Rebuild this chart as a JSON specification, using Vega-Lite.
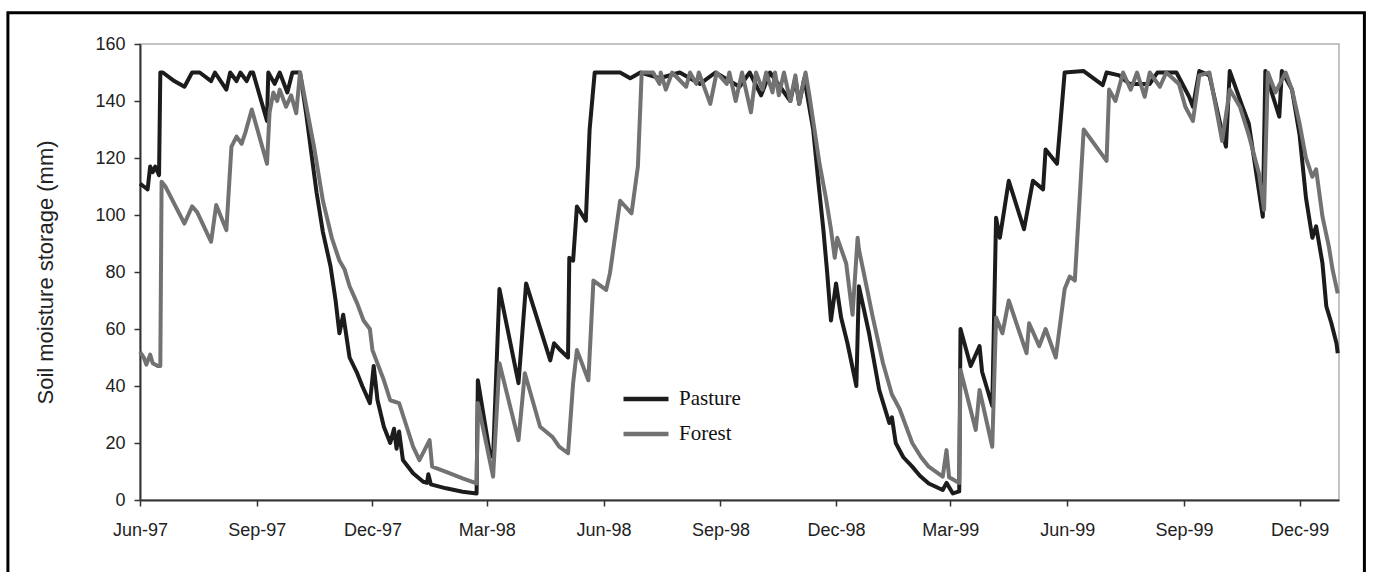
{
  "$schema": "https://vega.github.io/schema/vega-lite/v6.json",
  "autosize": {"type": "none"},
  "padding": {"left": 140, "top": 44, "right": 34, "bottom": 72},
  "width": 1199,
  "height": 456,
  "background": "white",
  "config": {
    "view": {"stroke": "#b0b0b0", "strokeWidth": 1.5},
    "font": "Liberation Sans"
  },
  "datasets": {
    "soil": [
      {"date": "1997-06-01", "series": "Pasture", "v": 111},
      {"date": "1997-06-04", "series": "Pasture", "v": 110},
      {"date": "1997-06-07", "series": "Pasture", "v": 109},
      {"date": "1997-06-09", "series": "Pasture", "v": 117},
      {"date": "1997-06-11", "series": "Pasture", "v": 115},
      {"date": "1997-06-13", "series": "Pasture", "v": 117},
      {"date": "1997-06-16", "series": "Pasture", "v": 114},
      {"date": "1997-06-17", "series": "Pasture", "v": 150},
      {"date": "1997-06-19", "series": "Pasture", "v": 150},
      {"date": "1997-06-28", "series": "Pasture", "v": 147},
      {"date": "1997-07-06", "series": "Pasture", "v": 145},
      {"date": "1997-07-12", "series": "Pasture", "v": 150},
      {"date": "1997-07-18", "series": "Pasture", "v": 150},
      {"date": "1997-07-27", "series": "Pasture", "v": 147},
      {"date": "1997-07-30", "series": "Pasture", "v": 150},
      {"date": "1997-08-08", "series": "Pasture", "v": 144},
      {"date": "1997-08-11", "series": "Pasture", "v": 150},
      {"date": "1997-08-16", "series": "Pasture", "v": 147},
      {"date": "1997-08-19", "series": "Pasture", "v": 150},
      {"date": "1997-08-24", "series": "Pasture", "v": 147},
      {"date": "1997-08-27", "series": "Pasture", "v": 150},
      {"date": "1997-08-29", "series": "Pasture", "v": 150},
      {"date": "1997-09-09", "series": "Pasture", "v": 133},
      {"date": "1997-09-10", "series": "Pasture", "v": 150},
      {"date": "1997-09-15", "series": "Pasture", "v": 146},
      {"date": "1997-09-19", "series": "Pasture", "v": 150},
      {"date": "1997-09-25", "series": "Pasture", "v": 143},
      {"date": "1997-09-29", "series": "Pasture", "v": 150},
      {"date": "1997-10-05", "series": "Pasture", "v": 150},
      {"date": "1997-10-10", "series": "Pasture", "v": 135},
      {"date": "1997-10-15", "series": "Pasture", "v": 118},
      {"date": "1997-10-18", "series": "Pasture", "v": 108},
      {"date": "1997-10-23", "series": "Pasture", "v": 94},
      {"date": "1997-10-29", "series": "Pasture", "v": 82},
      {"date": "1997-11-02", "series": "Pasture", "v": 70},
      {"date": "1997-11-05", "series": "Pasture", "v": 58.5},
      {"date": "1997-11-08", "series": "Pasture", "v": 65},
      {"date": "1997-11-11", "series": "Pasture", "v": 56},
      {"date": "1997-11-13", "series": "Pasture", "v": 50},
      {"date": "1997-11-19", "series": "Pasture", "v": 44.5},
      {"date": "1997-11-23", "series": "Pasture", "v": 40},
      {"date": "1997-11-29", "series": "Pasture", "v": 34},
      {"date": "1997-12-02", "series": "Pasture", "v": 47},
      {"date": "1997-12-05", "series": "Pasture", "v": 35},
      {"date": "1997-12-10", "series": "Pasture", "v": 25.7},
      {"date": "1997-12-15", "series": "Pasture", "v": 20},
      {"date": "1997-12-18", "series": "Pasture", "v": 25},
      {"date": "1997-12-20", "series": "Pasture", "v": 18},
      {"date": "1997-12-22", "series": "Pasture", "v": 24},
      {"date": "1997-12-25", "series": "Pasture", "v": 14},
      {"date": "1998-01-02", "series": "Pasture", "v": 9.4},
      {"date": "1998-01-10", "series": "Pasture", "v": 6.4},
      {"date": "1998-01-13", "series": "Pasture", "v": 6},
      {"date": "1998-01-14", "series": "Pasture", "v": 9},
      {"date": "1998-01-16", "series": "Pasture", "v": 5.5},
      {"date": "1998-01-28", "series": "Pasture", "v": 4.1},
      {"date": "1998-02-10", "series": "Pasture", "v": 2.9},
      {"date": "1998-02-21", "series": "Pasture", "v": 2.3},
      {"date": "1998-02-22", "series": "Pasture", "v": 42},
      {"date": "1998-03-03", "series": "Pasture", "v": 17.5},
      {"date": "1998-03-06", "series": "Pasture", "v": 15},
      {"date": "1998-03-11", "series": "Pasture", "v": 74},
      {"date": "1998-03-26", "series": "Pasture", "v": 41},
      {"date": "1998-04-01", "series": "Pasture", "v": 76},
      {"date": "1998-04-20", "series": "Pasture", "v": 49},
      {"date": "1998-04-23", "series": "Pasture", "v": 55},
      {"date": "1998-04-27", "series": "Pasture", "v": 53},
      {"date": "1998-05-04", "series": "Pasture", "v": 50},
      {"date": "1998-05-05", "series": "Pasture", "v": 85},
      {"date": "1998-05-08", "series": "Pasture", "v": 84},
      {"date": "1998-05-11", "series": "Pasture", "v": 103},
      {"date": "1998-05-18", "series": "Pasture", "v": 98},
      {"date": "1998-05-21", "series": "Pasture", "v": 130},
      {"date": "1998-05-25", "series": "Pasture", "v": 150},
      {"date": "1998-06-14", "series": "Pasture", "v": 150},
      {"date": "1998-06-22", "series": "Pasture", "v": 148},
      {"date": "1998-06-30", "series": "Pasture", "v": 150},
      {"date": "1998-07-15", "series": "Pasture", "v": 148},
      {"date": "1998-07-31", "series": "Pasture", "v": 150},
      {"date": "1998-08-16", "series": "Pasture", "v": 146},
      {"date": "1998-08-28", "series": "Pasture", "v": 150},
      {"date": "1998-09-16", "series": "Pasture", "v": 145},
      {"date": "1998-09-24", "series": "Pasture", "v": 150},
      {"date": "1998-10-03", "series": "Pasture", "v": 142},
      {"date": "1998-10-10", "series": "Pasture", "v": 150},
      {"date": "1998-10-26", "series": "Pasture", "v": 140},
      {"date": "1998-10-30", "series": "Pasture", "v": 148},
      {"date": "1998-11-02", "series": "Pasture", "v": 139},
      {"date": "1998-11-06", "series": "Pasture", "v": 148},
      {"date": "1998-11-13", "series": "Pasture", "v": 130},
      {"date": "1998-11-17", "series": "Pasture", "v": 112},
      {"date": "1998-11-21", "series": "Pasture", "v": 95},
      {"date": "1998-11-24", "series": "Pasture", "v": 80},
      {"date": "1998-11-27", "series": "Pasture", "v": 63},
      {"date": "1998-12-01", "series": "Pasture", "v": 76},
      {"date": "1998-12-05", "series": "Pasture", "v": 64},
      {"date": "1998-12-10", "series": "Pasture", "v": 55},
      {"date": "1998-12-17", "series": "Pasture", "v": 40},
      {"date": "1998-12-19", "series": "Pasture", "v": 75},
      {"date": "1998-12-27", "series": "Pasture", "v": 58.5},
      {"date": "1999-01-04", "series": "Pasture", "v": 38.6},
      {"date": "1999-01-12", "series": "Pasture", "v": 27},
      {"date": "1999-01-14", "series": "Pasture", "v": 29},
      {"date": "1999-01-17", "series": "Pasture", "v": 20},
      {"date": "1999-01-23", "series": "Pasture", "v": 15},
      {"date": "1999-01-30", "series": "Pasture", "v": 11.7},
      {"date": "1999-02-05", "series": "Pasture", "v": 8.5},
      {"date": "1999-02-12", "series": "Pasture", "v": 5.8},
      {"date": "1999-02-23", "series": "Pasture", "v": 3.5},
      {"date": "1999-02-26", "series": "Pasture", "v": 6},
      {"date": "1999-03-03", "series": "Pasture", "v": 2.3},
      {"date": "1999-03-08", "series": "Pasture", "v": 3},
      {"date": "1999-03-09", "series": "Pasture", "v": 60},
      {"date": "1999-03-17", "series": "Pasture", "v": 47},
      {"date": "1999-03-24", "series": "Pasture", "v": 54},
      {"date": "1999-03-26", "series": "Pasture", "v": 45},
      {"date": "1999-04-03", "series": "Pasture", "v": 33},
      {"date": "1999-04-06", "series": "Pasture", "v": 99},
      {"date": "1999-04-09", "series": "Pasture", "v": 92},
      {"date": "1999-04-16", "series": "Pasture", "v": 112},
      {"date": "1999-04-28", "series": "Pasture", "v": 95},
      {"date": "1999-05-05", "series": "Pasture", "v": 112},
      {"date": "1999-05-13", "series": "Pasture", "v": 109},
      {"date": "1999-05-15", "series": "Pasture", "v": 123},
      {"date": "1999-05-24", "series": "Pasture", "v": 118},
      {"date": "1999-05-30", "series": "Pasture", "v": 150},
      {"date": "1999-06-14", "series": "Pasture", "v": 150.5},
      {"date": "1999-06-29", "series": "Pasture", "v": 145.6},
      {"date": "1999-07-02", "series": "Pasture", "v": 150},
      {"date": "1999-07-12", "series": "Pasture", "v": 149},
      {"date": "1999-07-20", "series": "Pasture", "v": 146},
      {"date": "1999-08-05", "series": "Pasture", "v": 146},
      {"date": "1999-08-11", "series": "Pasture", "v": 150},
      {"date": "1999-08-26", "series": "Pasture", "v": 150},
      {"date": "1999-09-05", "series": "Pasture", "v": 141.5},
      {"date": "1999-09-08", "series": "Pasture", "v": 138},
      {"date": "1999-09-13", "series": "Pasture", "v": 150.5},
      {"date": "1999-09-21", "series": "Pasture", "v": 149},
      {"date": "1999-10-01", "series": "Pasture", "v": 129},
      {"date": "1999-10-04", "series": "Pasture", "v": 124},
      {"date": "1999-10-07", "series": "Pasture", "v": 150.5},
      {"date": "1999-10-17", "series": "Pasture", "v": 138},
      {"date": "1999-10-22", "series": "Pasture", "v": 132},
      {"date": "1999-11-02", "series": "Pasture", "v": 99.4},
      {"date": "1999-11-04", "series": "Pasture", "v": 150.5},
      {"date": "1999-11-09", "series": "Pasture", "v": 143},
      {"date": "1999-11-15", "series": "Pasture", "v": 134.5},
      {"date": "1999-11-17", "series": "Pasture", "v": 150.5},
      {"date": "1999-11-25", "series": "Pasture", "v": 144},
      {"date": "1999-12-01", "series": "Pasture", "v": 128},
      {"date": "1999-12-06", "series": "Pasture", "v": 106},
      {"date": "1999-12-11", "series": "Pasture", "v": 92},
      {"date": "1999-12-14", "series": "Pasture", "v": 96},
      {"date": "1999-12-19", "series": "Pasture", "v": 83},
      {"date": "1999-12-22", "series": "Pasture", "v": 68},
      {"date": "1999-12-26", "series": "Pasture", "v": 62},
      {"date": "1999-12-30", "series": "Pasture", "v": 55},
      {"date": "1999-12-31", "series": "Pasture", "v": 51.5},

      {"date": "1997-06-01", "series": "Forest", "v": 52},
      {"date": "1997-06-04", "series": "Forest", "v": 50},
      {"date": "1997-06-06", "series": "Forest", "v": 47.5},
      {"date": "1997-06-09", "series": "Forest", "v": 51},
      {"date": "1997-06-11", "series": "Forest", "v": 48},
      {"date": "1997-06-15", "series": "Forest", "v": 47},
      {"date": "1997-06-17", "series": "Forest", "v": 47},
      {"date": "1997-06-18", "series": "Forest", "v": 111.7},
      {"date": "1997-06-21", "series": "Forest", "v": 110},
      {"date": "1997-07-06", "series": "Forest", "v": 97},
      {"date": "1997-07-12", "series": "Forest", "v": 103},
      {"date": "1997-07-16", "series": "Forest", "v": 101},
      {"date": "1997-07-27", "series": "Forest", "v": 90.6},
      {"date": "1997-07-31", "series": "Forest", "v": 103.5},
      {"date": "1997-08-08", "series": "Forest", "v": 94.7},
      {"date": "1997-08-12", "series": "Forest", "v": 124},
      {"date": "1997-08-16", "series": "Forest", "v": 127.5},
      {"date": "1997-08-20", "series": "Forest", "v": 125},
      {"date": "1997-08-23", "series": "Forest", "v": 129},
      {"date": "1997-08-28", "series": "Forest", "v": 137},
      {"date": "1997-09-09", "series": "Forest", "v": 118},
      {"date": "1997-09-11", "series": "Forest", "v": 136},
      {"date": "1997-09-14", "series": "Forest", "v": 143},
      {"date": "1997-09-17", "series": "Forest", "v": 140},
      {"date": "1997-09-19", "series": "Forest", "v": 144},
      {"date": "1997-09-24", "series": "Forest", "v": 138},
      {"date": "1997-09-28", "series": "Forest", "v": 142},
      {"date": "1997-10-02", "series": "Forest", "v": 135.7},
      {"date": "1997-10-05", "series": "Forest", "v": 150},
      {"date": "1997-10-10", "series": "Forest", "v": 138},
      {"date": "1997-10-16", "series": "Forest", "v": 124},
      {"date": "1997-10-23", "series": "Forest", "v": 105},
      {"date": "1997-10-30", "series": "Forest", "v": 92},
      {"date": "1997-11-05", "series": "Forest", "v": 84},
      {"date": "1997-11-09", "series": "Forest", "v": 81},
      {"date": "1997-11-13", "series": "Forest", "v": 75},
      {"date": "1997-11-19", "series": "Forest", "v": 69},
      {"date": "1997-11-24", "series": "Forest", "v": 63},
      {"date": "1997-11-29", "series": "Forest", "v": 60},
      {"date": "1997-12-01", "series": "Forest", "v": 52.6},
      {"date": "1997-12-10", "series": "Forest", "v": 42},
      {"date": "1997-12-15", "series": "Forest", "v": 35},
      {"date": "1997-12-22", "series": "Forest", "v": 34},
      {"date": "1997-12-28", "series": "Forest", "v": 25.7},
      {"date": "1998-01-02", "series": "Forest", "v": 18.7},
      {"date": "1998-01-07", "series": "Forest", "v": 14},
      {"date": "1998-01-15", "series": "Forest", "v": 21},
      {"date": "1998-01-17", "series": "Forest", "v": 11.7},
      {"date": "1998-01-28", "series": "Forest", "v": 9.9},
      {"date": "1998-02-10", "series": "Forest", "v": 7.6},
      {"date": "1998-02-21", "series": "Forest", "v": 5.8},
      {"date": "1998-02-22", "series": "Forest", "v": 34},
      {"date": "1998-03-06", "series": "Forest", "v": 8.2},
      {"date": "1998-03-11", "series": "Forest", "v": 48},
      {"date": "1998-03-26", "series": "Forest", "v": 21},
      {"date": "1998-03-31", "series": "Forest", "v": 44.5},
      {"date": "1998-04-12", "series": "Forest", "v": 25.7},
      {"date": "1998-04-22", "series": "Forest", "v": 22},
      {"date": "1998-04-27", "series": "Forest", "v": 18.7},
      {"date": "1998-05-04", "series": "Forest", "v": 16.4},
      {"date": "1998-05-08", "series": "Forest", "v": 41},
      {"date": "1998-05-11", "series": "Forest", "v": 52.6},
      {"date": "1998-05-20", "series": "Forest", "v": 42},
      {"date": "1998-05-24", "series": "Forest", "v": 77},
      {"date": "1998-06-03", "series": "Forest", "v": 73.7},
      {"date": "1998-06-06", "series": "Forest", "v": 79.6},
      {"date": "1998-06-14", "series": "Forest", "v": 105},
      {"date": "1998-06-23", "series": "Forest", "v": 100.6},
      {"date": "1998-06-28", "series": "Forest", "v": 117},
      {"date": "1998-07-01", "series": "Forest", "v": 150},
      {"date": "1998-07-10", "series": "Forest", "v": 150},
      {"date": "1998-07-15", "series": "Forest", "v": 146},
      {"date": "1998-07-16", "series": "Forest", "v": 150},
      {"date": "1998-07-20", "series": "Forest", "v": 144},
      {"date": "1998-07-25", "series": "Forest", "v": 150},
      {"date": "1998-08-05", "series": "Forest", "v": 145},
      {"date": "1998-08-08", "series": "Forest", "v": 150},
      {"date": "1998-08-13", "series": "Forest", "v": 146},
      {"date": "1998-08-15", "series": "Forest", "v": 150},
      {"date": "1998-08-24", "series": "Forest", "v": 139},
      {"date": "1998-08-29", "series": "Forest", "v": 150},
      {"date": "1998-09-06", "series": "Forest", "v": 146},
      {"date": "1998-09-08", "series": "Forest", "v": 150},
      {"date": "1998-09-13", "series": "Forest", "v": 140},
      {"date": "1998-09-18", "series": "Forest", "v": 150},
      {"date": "1998-09-25", "series": "Forest", "v": 136},
      {"date": "1998-09-29", "series": "Forest", "v": 150},
      {"date": "1998-10-04", "series": "Forest", "v": 144},
      {"date": "1998-10-07", "series": "Forest", "v": 150},
      {"date": "1998-10-12", "series": "Forest", "v": 143},
      {"date": "1998-10-14", "series": "Forest", "v": 150},
      {"date": "1998-10-17", "series": "Forest", "v": 142},
      {"date": "1998-10-21", "series": "Forest", "v": 150},
      {"date": "1998-10-26", "series": "Forest", "v": 140},
      {"date": "1998-10-30", "series": "Forest", "v": 149},
      {"date": "1998-11-02", "series": "Forest", "v": 139},
      {"date": "1998-11-07", "series": "Forest", "v": 150},
      {"date": "1998-11-10", "series": "Forest", "v": 142},
      {"date": "1998-11-14", "series": "Forest", "v": 130},
      {"date": "1998-11-18", "series": "Forest", "v": 118},
      {"date": "1998-11-23", "series": "Forest", "v": 106},
      {"date": "1998-11-27", "series": "Forest", "v": 95},
      {"date": "1998-11-30", "series": "Forest", "v": 85},
      {"date": "1998-12-02", "series": "Forest", "v": 92},
      {"date": "1998-12-09", "series": "Forest", "v": 83},
      {"date": "1998-12-14", "series": "Forest", "v": 65},
      {"date": "1998-12-18", "series": "Forest", "v": 92},
      {"date": "1998-12-19", "series": "Forest", "v": 88},
      {"date": "1998-12-25", "series": "Forest", "v": 75},
      {"date": "1998-12-30", "series": "Forest", "v": 64},
      {"date": "1999-01-07", "series": "Forest", "v": 48},
      {"date": "1999-01-14", "series": "Forest", "v": 37},
      {"date": "1999-01-20", "series": "Forest", "v": 32},
      {"date": "1999-01-30", "series": "Forest", "v": 20},
      {"date": "1999-02-06", "series": "Forest", "v": 15},
      {"date": "1999-02-12", "series": "Forest", "v": 11.7},
      {"date": "1999-02-23", "series": "Forest", "v": 8.2},
      {"date": "1999-02-26", "series": "Forest", "v": 17.5},
      {"date": "1999-02-28", "series": "Forest", "v": 8},
      {"date": "1999-03-08", "series": "Forest", "v": 6},
      {"date": "1999-03-09", "series": "Forest", "v": 45.6},
      {"date": "1999-03-21", "series": "Forest", "v": 24.6},
      {"date": "1999-03-24", "series": "Forest", "v": 38.6},
      {"date": "1999-04-03", "series": "Forest", "v": 18.7},
      {"date": "1999-04-06", "series": "Forest", "v": 64},
      {"date": "1999-04-11", "series": "Forest", "v": 58.5},
      {"date": "1999-04-16", "series": "Forest", "v": 70},
      {"date": "1999-04-30", "series": "Forest", "v": 51.5},
      {"date": "1999-05-02", "series": "Forest", "v": 62},
      {"date": "1999-05-10", "series": "Forest", "v": 54},
      {"date": "1999-05-15", "series": "Forest", "v": 60},
      {"date": "1999-05-23", "series": "Forest", "v": 50},
      {"date": "1999-05-30", "series": "Forest", "v": 74},
      {"date": "1999-06-03", "series": "Forest", "v": 78.4},
      {"date": "1999-06-07", "series": "Forest", "v": 77},
      {"date": "1999-06-14", "series": "Forest", "v": 130},
      {"date": "1999-07-02", "series": "Forest", "v": 119},
      {"date": "1999-07-04", "series": "Forest", "v": 144},
      {"date": "1999-07-09", "series": "Forest", "v": 140},
      {"date": "1999-07-15", "series": "Forest", "v": 150},
      {"date": "1999-07-21", "series": "Forest", "v": 144},
      {"date": "1999-07-26", "series": "Forest", "v": 150},
      {"date": "1999-08-01", "series": "Forest", "v": 141.5},
      {"date": "1999-08-05", "series": "Forest", "v": 150},
      {"date": "1999-08-13", "series": "Forest", "v": 145},
      {"date": "1999-08-18", "series": "Forest", "v": 150},
      {"date": "1999-08-28", "series": "Forest", "v": 146},
      {"date": "1999-09-02", "series": "Forest", "v": 138},
      {"date": "1999-09-08", "series": "Forest", "v": 133},
      {"date": "1999-09-13", "series": "Forest", "v": 149},
      {"date": "1999-09-21", "series": "Forest", "v": 150},
      {"date": "1999-10-01", "series": "Forest", "v": 126},
      {"date": "1999-10-07", "series": "Forest", "v": 144},
      {"date": "1999-10-15", "series": "Forest", "v": 138},
      {"date": "1999-10-22", "series": "Forest", "v": 128},
      {"date": "1999-10-30", "series": "Forest", "v": 114.6},
      {"date": "1999-11-03", "series": "Forest", "v": 101.8},
      {"date": "1999-11-06", "series": "Forest", "v": 150},
      {"date": "1999-11-12", "series": "Forest", "v": 143},
      {"date": "1999-11-20", "series": "Forest", "v": 150},
      {"date": "1999-11-25", "series": "Forest", "v": 144},
      {"date": "1999-12-01", "series": "Forest", "v": 132},
      {"date": "1999-12-06", "series": "Forest", "v": 120},
      {"date": "1999-12-11", "series": "Forest", "v": 113.4},
      {"date": "1999-12-14", "series": "Forest", "v": 116},
      {"date": "1999-12-19", "series": "Forest", "v": 99.4},
      {"date": "1999-12-24", "series": "Forest", "v": 89},
      {"date": "1999-12-27", "series": "Forest", "v": 80.7},
      {"date": "1999-12-31", "series": "Forest", "v": 72.5}
    ]
  },
  "layer": [
    {
      "data": {"name": "soil"},
      "transform": [{"filter": "datum.series === 'Pasture'"}],
      "mark": {"type": "line", "strokeWidth": 4, "strokeJoin": "round"},
      "encoding": {
        "x": {
          "field": "date",
          "type": "temporal",
          "scale": {
            "type": "utc",
            "domain": [
              {"year": 1997, "month": 6, "date": 1, "utc": true},
              {"year": 2000, "month": 1, "date": 1, "utc": true}
            ]
          },
          "axis": {
            "title": null,
            "values": [
              {"year": 1997, "month": 6, "date": 1, "utc": true},
              {"year": 1997, "month": 9, "date": 1, "utc": true},
              {"year": 1997, "month": 12, "date": 1, "utc": true},
              {"year": 1998, "month": 3, "date": 1, "utc": true},
              {"year": 1998, "month": 6, "date": 1, "utc": true},
              {"year": 1998, "month": 9, "date": 1, "utc": true},
              {"year": 1998, "month": 12, "date": 1, "utc": true},
              {"year": 1999, "month": 3, "date": 1, "utc": true},
              {"year": 1999, "month": 6, "date": 1, "utc": true},
              {"year": 1999, "month": 9, "date": 1, "utc": true},
              {"year": 1999, "month": 12, "date": 1, "utc": true}
            ],
            "labelExpr": "utcFormat(datum.value, '%b-%y')",
            "grid": false,
            "domainColor": "#333333",
            "domainWidth": 2,
            "tickColor": "#333333",
            "tickWidth": 1.5,
            "tickSize": 6,
            "labelFontSize": 18,
            "labelColor": "#222222",
            "labelPadding": 15,
            "labelFlush": false,
            "labelOverlap": false
          }
        },
        "y": {
          "field": "v",
          "type": "quantitative",
          "scale": {"domain": [0, 160], "nice": false},
          "axis": {
            "title": "Soil moisture storage (mm)",
            "values": [0, 20, 40, 60, 80, 100, 120, 140, 160],
            "grid": false,
            "domainColor": "#333333",
            "domainWidth": 2,
            "tickColor": "#333333",
            "tickWidth": 1.5,
            "tickSize": 6,
            "labelFontSize": 18,
            "labelColor": "#222222",
            "labelPadding": 9,
            "titleFontSize": 22,
            "titleFontWeight": "normal",
            "titleColor": "#222222",
            "titlePadding": 37
          }
        },
        "color": {
          "field": "series",
          "type": "nominal",
          "scale": {"domain": ["Pasture", "Forest"], "range": ["#1c1c1c", "#727272"]},
          "legend": {
            "title": null,
            "orient": "none",
            "legendX": 481,
            "legendY": 330,
            "symbolType": "stroke",
            "symbolSize": 2025,
            "symbolStrokeWidth": 4.5,
            "labelFont": "Liberation Serif",
            "labelFontSize": 21,
            "labelColor": "#111111",
            "labelOffset": 8,
            "rowPadding": -6
          }
        }
      }
    },
    {
      "data": {"name": "soil"},
      "transform": [{"filter": "datum.series === 'Forest'"}],
      "mark": {"type": "line", "strokeWidth": 4, "strokeJoin": "round"},
      "encoding": {
        "x": {"field": "date", "type": "temporal"},
        "y": {"field": "v", "type": "quantitative"},
        "color": {"field": "series", "type": "nominal"}
      }
    },
    {
      "data": {"values": [{}]},
      "mark": {"type": "rect", "fill": null, "stroke": "#000000", "strokeWidth": 3},
      "encoding": {
        "x": {"datum": {"year": 1997, "month": 2, "date": 17, "utc": true}, "type": "temporal"},
        "x2": {"datum": {"year": 2000, "month": 1, "date": 21, "utc": true}},
        "y": {"datum": 171, "type": "quantitative"},
        "y2": {"datum": -30}
      }
    }
  ]
}
